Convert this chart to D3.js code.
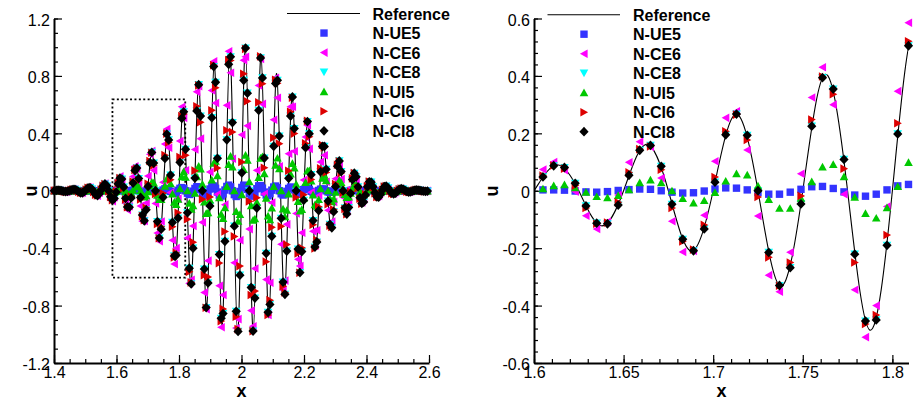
<!DOCTYPE html>
<html>
<head>
<meta charset="utf-8">
<script src="https://cdn.jsdelivr.net/npm/d3@7"></script>
<style>
  body { margin: 0; background: #fff; }
  svg { display: block; }
</style>
</head>
<body>
<svg id="chart" width="914" height="400"></svg>
<script>
// Sample positions of the discrete solutions (cell centres, h = 0.006)
const gridX = [
  1.401,1.407,1.413,1.419,1.425,1.431,1.437,1.443,1.449,1.455,
  1.461,1.467,1.473,1.479,1.485,1.491,1.497,1.503,1.509,1.515,
  1.521,1.527,1.533,1.539,1.545,1.551,1.557,1.563,1.569,1.575,
  1.581,1.587,1.593,1.599,1.605,1.611,1.617,1.623,1.629,1.635,
  1.641,1.647,1.653,1.659,1.665,1.671,1.677,1.683,1.689,1.695,
  1.701,1.707,1.713,1.719,1.725,1.731,1.737,1.743,1.749,1.755,
  1.761,1.767,1.773,1.779,1.785,1.791,1.797,1.803,1.809,1.815,
  1.821,1.827,1.833,1.839,1.845,1.851,1.857,1.863,1.869,1.875,
  1.881,1.887,1.893,1.899,1.905,1.911,1.917,1.923,1.929,1.935,
  1.941,1.947,1.953,1.959,1.965,1.971,1.977,1.983,1.989,1.995,
  2.001,2.007,2.013,2.019,2.025,2.031,2.037,2.043,2.049,2.055,
  2.061,2.067,2.073,2.079,2.085,2.091,2.097,2.103,2.109,2.115,
  2.121,2.127,2.133,2.139,2.145,2.151,2.157,2.163,2.169,2.175,
  2.181,2.187,2.193,2.199,2.205,2.211,2.217,2.223,2.229,2.235,
  2.241,2.247,2.253,2.259,2.265,2.271,2.277,2.283,2.289,2.295,
  2.301,2.307,2.313,2.319,2.325,2.331,2.337,2.343,2.349,2.355,
  2.361,2.367,2.373,2.379,2.385,2.391,2.397,2.403,2.409,2.415,
  2.421,2.427,2.433,2.439,2.445,2.451,2.457,2.463,2.469,2.475,
  2.481,2.487,2.493,2.499,2.505,2.511,2.517,2.523,2.529,2.535,
  2.541,2.547,2.553,2.559,2.565,2.571,2.577,2.583,2.589,2.595
];

// Reference solution: zeros and extrema of the wave packet
const refLineX = [
  1.4,1.4125,1.425,1.4375,1.45,1.4625,1.475,1.4875,1.5,1.5125,1.525,1.5375,1.55,1.5625,1.575,1.5875,
  1.6,1.6125,1.625,1.6375,1.65,1.6625,1.675,1.6875,1.7,1.7125,1.725,1.7375,1.75,1.7625,1.775,1.7875,
  1.8,1.8125,1.825,1.8375,1.85,1.8625,1.875,1.8875,1.9,1.9125,1.925,1.9375,1.95,1.9625,1.975,1.9875,
  2,2.0125,2.025,2.0375,2.05,2.0625,2.075,2.0875,2.1,2.1125,2.125,2.1375,2.15,2.1625,2.175,2.1875,
  2.2,2.2125,2.225,2.2375,2.25,2.2625,2.275,2.2875,2.3,2.3125,2.325,2.3375,2.35,2.3625,2.375,2.3875,
  2.4,2.4125,2.425,2.4375,2.45,2.4625,2.475,2.4875,2.5,2.5125,2.525,2.5375,2.55,2.5625,2.575,2.5875,2.6
];
const refLineU = [
  0,.004,0,-.0063,0,.0098,0,-.015,0,.0223,0,-.0326,0,.0468,0,-.0657,
  0,.0905,0,-.1221,0,.1616,0,-.2096,0,.2665,0,-.3321,0,.4056,0,-.4855,
  0,.5698,0,-.6554,0,.739,0,-.8167,0,.8847,0,-.9394,0,.9778,0,-.9975,
  0,.9975,0,-.9778,0,.9394,0,-.8847,0,.8167,0,-.739,0,.6554,0,-.5698,
  0,.4855,0,-.4056,0,.3321,0,-.2665,0,.2096,0,-.1616,0,.1221,0,-.0905,
  0,.0657,0,-.0468,0,.0326,0,-.0223,0,.015,0,-.0098,0,.0063,0,-.004,0
];

const nUE5 = [
  0,0,0,0,0,0,0,0,0,0,0,0,0,0,-.001,0,0,.001,.001,.001,0,-.001,-.001,-.001,0,
  .001,.002,.002,.001,-.001,-.002,-.002,-.001,.001,.003,.003,.002,-.001,-.004,-.005,-.003,.001,.004,.006,.005,0,-.005,-.008,-.007,-.001,
  .006,.010,.009,.003,-.006,-.012,-.012,-.005,.005,.014,.015,.008,-.004,-.015,-.019,-.012,.003,.017,.022,.016,0,-.017,-.026,-.020,-.003,
  .016,.028,.025,.008,-.015,-.030,-.030,-.012,.012,.031,.033,.017,-.009,-.031,-.037,-.022,.005,.030,.039,.027,0,-.027,-.040,-.031,-.005,
  .023,.039,.034,.010,-.019,-.037,-.035,-.014,.014,.034,.036,.018,-.009,-.030,-.035,-.020,.004,.026,.033,.022,0,-.021,-.030,-.022,-.004,
  .016,.026,.022,.006,-.012,-.022,-.020,-.008,.008,.018,.018,.009,-.004,-.014,-.016,-.009,.002,.011,.013,.009,0,-.008,-.011,-.008,-.001,
  .005,.008,.007,.002,-.003,-.006,-.006,-.002,.002,.005,.005,.002,-.001,-.003,-.003,-.002,0,.002,.003,.002,0,-.001,-.002,-.001,0,
  .001,.001,.001,0,0,-.001,-.001,0,0,0,0,0,0,0,0,0,0,0,0,0,0,0,0,0,0
];
const nCE6 = [
  .001,.003,.004,.002,-.001,-.006,-.007,-.005,.001,.008,.011,.008,0,-.011,-.017,-.014,-.002,.013,.024,.022,.007,-.016,-.034,-.035,-.014,
  .017,.046,.051,.027,-.017,-.059,-.073,-.045,.013,.074,.100,.072,-.003,-.087,-.133,-.108,-.015,.099,.171,.153,.044,-.106,-.213,-.210,-.085,
  .103,.254,.277,.142,-.088,-.294,-.352,-.214,.059,.325,.430,.300,-.012,-.345,-.510,-.400,-.055,.347,.585,.508,.143,-.329,-.645,-.620,-.246,
  .287,.689,.728,.363,-.220,-.709,-.825,-.487,.131,.699,.901,.611,-.024,-.662,-.951,-.726,-.097,.595,.971,.822,.223,-.502,-.957,-.894,-.344,
  .390,.910,.933,.452,-.267,-.835,-.944,-.542,.142,.734,.918,.605,-.022,-.619,-.865,-.641,-.083,.495,.787,.648,.171,-.373,-.691,-.626,-.234,
  .258,.586,.585,.275,-.158,-.478,-.524,-.293,.075,.374,.456,.292,-.010,-.282,-.382,-.275,-.035,.201,.310,.247,.063,-.135,-.242,-.214,-.078,
  .083,.183,.178,.081,-.045,-.134,-.142,-.077,.019,.093,.110,.068,-.002,-.062,-.082,-.058,-.007,.040,.059,.046,.012,-.023,-.041,-.036,-.013,
  .013,.028,.027,.012,-.006,-.018,-.019,-.010,.002,.012,.013,.007,0,-.006,-.008,-.005,-.001,.004,.005,.004,.001,-.002,-.003,-.003,-.001
];
const nCE8 = [
  0,.003,.004,.003,0,-.004,-.006,-.005,-.001,.005,.009,.009,.003,-.006,-.014,-.014,-.006,.007,.019,.022,.012,-.007,-.026,-.033,-.021,
  .005,.033,.047,.035,0,-.041,-.065,-.054,-.010,.048,.087,.081,.026,-.053,-.113,-.115,-.050,.054,.141,.158,.085,-.047,-.169,-.209,-.133,
  .030,.195,.267,.193,0,-.215,-.330,-.268,-.046,.225,.394,.354,.109,-.221,-.454,-.450,-.190,.198,.505,.550,.289,-.154,-.540,-.649,-.400,
  .088,.556,.739,.520,0,-.546,-.814,-.642,-.106,.509,.865,.756,.226,-.444,-.889,-.856,-.352,.355,.881,.933,.475,-.247,-.840,-.980,-.588,
  .125,.769,.994,.680,0,-.674,-.977,-.748,-.121,.560,.925,.786,.228,-.436,-.847,-.792,-.317,.310,.748,.769,.381,-.192,-.636,-.721,-.420,
  .087,.520,.653,.433,0,-.406,-.570,-.424,-.067,.300,.482,.397,.112,-.208,-.392,-.357,-.138,.132,.309,.309,.149,-.072,-.234,-.258,-.146,
  .029,.171,.208,.134,0,-.119,-.162,-.117,-.018,.078,.122,.097,.027,-.048,-.088,-.079,-.029,.027,.062,.060,.028,-.014,-.042,-.045,-.024,
  .005,.028,.032,.020,0,-.017,-.022,-.016,-.002,.009,.015,.012,.003,-.005,-.009,-.008,-.003,.003,.006,.005,.002,-.001,-.003,-.004,-.002
];
const nUI5 = [
  0,0,.001,.001,0,-.001,-.001,-.001,-.001,.001,.002,.002,.001,-.001,-.002,-.003,-.002,.001,.004,.005,.004,0,-.004,-.007,-.005,
  -.001,.006,.011,.010,.003,-.006,-.012,-.012,-.005,.007,.018,.021,.011,-.005,-.020,-.024,-.016,.004,.028,.038,.028,0,-.027,-.042,-.034,
  -.006,.034,.060,.055,.017,-.030,-.061,-.061,-.026,.032,.083,.092,.049,-.022,-.079,-.095,-.059,.015,.099,.133,.094,0,-.086,-.129,-.103,
  -.017,.099,.172,.152,.046,-.078,-.158,-.153,-.064,.076,.192,.206,.106,-.048,-.163,-.193,-.117,.030,.184,.241,.166,0,-.144,-.211,-.164,
  -.027,.148,.248,.214,.063,-.104,-.205,-.195,-.079,.093,.227,.238,.120,-.052,-.175,-.202,-.119,.030,.179,.228,.154,0,-.126,-.180,-.136,
  -.022,.117,.191,.160,.046,-.074,-.141,-.130,-.051,.059,.139,.141,.069,-.029,-.096,-.107,-.061,.015,.087,.108,.071,0,-.055,-.076,-.056,
  -.009,.045,.072,.058,.016,-.025,-.047,-.042,-.016,.018,.041,.041,.019,-.008,-.025,-.027,-.015,.004,.021,.025,.016,0,-.012,-.016,-.011,
  -.002,.008,.013,.010,.003,-.004,-.008,-.007,-.002,.003,.006,.006,.003,-.001,-.003,-.003,-.002,0,.002,.003,.002,0,-.001,-.002,-.001
];
const nCI6 = [
  .001,.003,.004,.003,0,-.004,-.006,-.005,0,.006,.010,.009,.002,-.007,-.014,-.014,-.005,.008,.020,.021,.011,-.009,-.027,-.032,-.019,
  .008,.035,.047,.032,-.004,-.044,-.065,-.051,-.004,.053,.088,.077,.018,-.060,-.115,-.111,-.040,.064,.145,.154,.073,-.060,-.177,-.205,-.119,
  .048,.207,.265,.177,-.022,-.232,-.331,-.250,-.018,.248,.398,.336,.077,-.250,-.464,-.433,-.154,.235,.521,.535,.248,-.199,-.565,-.638,-.358,
  .140,.589,.734,.477,-.059,-.588,-.815,-.600,-.043,.560,.875,.718,.159,-.504,-.908,-.823,-.284,.422,.910,.907,.409,-.318,-.878,-.964,-.525,
  .200,.815,.987,.623,-.074,-.726,-.978,-.699,-.048,.616,.936,.746,.160,-.494,-.865,-.762,-.255,.369,.773,.749,.328,-.248,-.665,-.709,-.375,
  .139,.550,.648,.398,-.046,-.437,-.571,-.397,-.027,.330,.487,.377,.079,-.236,-.402,-.343,-.111,.157,.319,.301,.128,-.094,-.244,-.253,-.131,
  .047,.181,.206,.123,-.014,-.127,-.163,-.110,-.007,.086,.124,.093,.019,-.055,-.090,-.076,-.024,.033,.064,.059,.024,-.017,-.044,-.044,-.022,
  .007,.029,.032,.019,-.002,-.018,-.022,-.015,-.001,.010,.015,.011,.002,-.006,-.009,-.008,-.002,.003,.006,.005,.002,-.001,-.004,-.003,-.002
];
const nCI8 = [
  0,.003,.004,.003,0,-.004,-.006,-.005,-.001,.005,.009,.009,.003,-.006,-.014,-.014,-.006,.007,.019,.022,.012,-.007,-.026,-.033,-.021,
  .005,.033,.047,.035,0,-.041,-.065,-.054,-.010,.048,.087,.081,.026,-.053,-.113,-.115,-.050,.054,.141,.158,.085,-.047,-.169,-.209,-.133,
  .030,.195,.267,.193,0,-.215,-.330,-.268,-.046,.225,.394,.354,.109,-.221,-.454,-.450,-.190,.198,.505,.550,.289,-.154,-.540,-.649,-.400,
  .088,.556,.739,.520,0,-.546,-.814,-.642,-.106,.509,.865,.756,.226,-.444,-.889,-.856,-.352,.355,.881,.933,.475,-.247,-.840,-.980,-.588,
  .125,.769,.994,.680,0,-.674,-.977,-.748,-.121,.560,.925,.786,.228,-.436,-.847,-.792,-.317,.310,.748,.769,.381,-.192,-.636,-.721,-.420,
  .087,.520,.653,.433,0,-.406,-.570,-.424,-.067,.300,.482,.397,.112,-.208,-.392,-.357,-.138,.132,.309,.309,.149,-.072,-.234,-.258,-.146,
  .029,.171,.208,.134,0,-.119,-.162,-.117,-.018,.078,.122,.097,.027,-.048,-.088,-.079,-.029,.027,.062,.060,.028,-.014,-.042,-.045,-.024,
  .005,.028,.032,.020,0,-.017,-.022,-.016,-.002,.009,.015,.012,.003,-.005,-.009,-.008,-.003,.003,.006,.005,.002,-.001,-.003,-.004,-.002
];

const seriesNames = ["N-UE5", "N-CE6", "N-CE8", "N-UI5", "N-CI6", "N-CI8"];
const referenceName = "Reference";

// Axis ticks and labels
const fullXTicks = [1.4, 1.6, 1.8, 2, 2.2, 2.4, 2.6];
const fullXTickLabels = ["1.4", "1.6", "1.8", "2", "2.2", "2.4", "2.6"];
const fullUTicks = [-1.2, -0.8, -0.4, 0, 0.4, 0.8, 1.2];
const fullUTickLabels = ["-1.2", "-0.8", "-0.4", "0", "0.4", "0.8", "1.2"];
const zoomXTicks = [1.6, 1.65, 1.7, 1.75, 1.8];
const zoomXTickLabels = ["1.6", "1.65", "1.7", "1.75", "1.8"];
const zoomUTicks = [-0.6, -0.4, -0.2, 0, 0.2, 0.4, 0.6];
const zoomUTickLabels = ["-0.6", "-0.4", "-0.2", "0", "0.2", "0.4", "0.6"];

// Window shown in the right-hand panel, outlined in the left one
const zoomBoxX = [1.587, 1.82];
const zoomBoxU = [-0.605, 0.636];

const FONT = '"Liberation Sans", Arial, Helvetica, sans-serif';
const seriesValues = [nUE5, nCE6, nCE8, nUI5, nCI6, nCI8];
const seriesColors = ["#3333ff", "#ff00ff", "#00ffff", "#00c800", "#dd0000", "#000000"];
const seriesShapes = [
  "M-3.7,-3.7H3.7V3.7H-3.7Z",          // square
  "M-4.1,0L3.6,-4.3L3.6,4.3Z",          // left triangle
  "M-4.3,-3.6H4.3L0,4.1Z",              // down triangle
  "M0,-4.1L4.3,3.6H-4.3Z",              // up triangle
  "M4.1,0L-3.6,-4.3L-3.6,4.3Z",         // right triangle
  "M0,-4.9L4.6,0L0,4.9L-4.6,0Z"         // diamond
];

const panels = [
  {
    key: "full",
    xDomain: [1.4, 2.6], uDomain: [-1.2, 1.2],
    xRange: [54, 429], uRange: [363, 18.5],
    xTicks: fullXTicks, xLabels: fullXTickLabels, xMinorStep: 0.05,
    uTicks: fullUTicks, uLabels: fullUTickLabels, uMinorStep: 0.1,
    legend: { x0: 287, x1: 360, mx: 324, tx: 372.5, y0: 13.5, dy: 19.55 },
    xTitleX: 241.5, uTitleX: 37, box: true
  },
  {
    key: "zoom",
    xDomain: [1.6, 1.809], uDomain: [-0.6, 0.6],
    xRange: [534, 908.5], uRange: [363, 18.5],
    xTicks: zoomXTicks, xLabels: zoomXTickLabels, xMinorStep: 0.01,
    uTicks: zoomUTicks, uLabels: zoomUTickLabels, uMinorStep: 0.04,
    legend: { x0: 547.5, x1: 620, mx: 584, tx: 633, y0: 14.7, dy: 19.5 },
    xTitleX: 721.5, uTitleX: 497.5, box: false
  }
];

const svg = d3.select("#chart");

function minorValues(domain, step) {
  return d3.range(domain[0], domain[1] + 1e-9, step).map(v => +v.toFixed(4));
}

function styleAxis(g) {
  g.attr("font-family", FONT).attr("font-size", 16);
  g.selectAll(".tick line").attr("stroke", "#000").attr("stroke-width", 1.2);
  g.selectAll(".tick text").attr("fill", "#000");
}

function drawPanel(p) {
  const x = d3.scaleLinear().domain(p.xDomain).range(p.xRange);
  const y = d3.scaleLinear().domain(p.uDomain).range(p.uRange);
  const g = svg.append("g").attr("class", "panel-" + p.key);
  const base = p.uRange[0];

  // minor ticks
  g.append("g").attr("transform", `translate(0,${base})`)
    .call(d3.axisBottom(x).tickValues(minorValues(p.xDomain, p.xMinorStep)).tickSize(-4).tickFormat(""))
    .call(a => a.select(".domain").remove())
    .call(styleAxis);
  g.append("g").attr("transform", `translate(${p.xRange[0]},0)`)
    .call(d3.axisLeft(y).tickValues(minorValues(p.uDomain, p.uMinorStep)).tickSize(-4).tickFormat(""))
    .call(a => a.select(".domain").remove())
    .call(styleAxis);

  // major ticks, labels and axis lines
  g.append("g").attr("transform", `translate(0,${base})`)
    .call(d3.axisBottom(x).tickValues(p.xTicks).tickFormat((d, i) => p.xLabels[i])
      .tickSizeInner(-8).tickSizeOuter(0).tickPadding(4))
    .call(styleAxis)
    .call(a => a.select(".domain").attr("stroke", "#000").attr("stroke-width", 2));
  g.append("g").attr("transform", `translate(${p.xRange[0]},0)`)
    .call(d3.axisLeft(y).tickValues(p.uTicks).tickFormat((d, i) => p.uLabels[i])
      .tickSizeInner(-8).tickSizeOuter(0).tickPadding(4))
    .call(styleAxis)
    .call(a => a.selectAll(".tick text").attr("dy", "0.42em"))
    .call(a => a.select(".domain").attr("stroke", "#000").attr("stroke-width", 2));

  // axis titles
  g.append("text").attr("x", p.xTitleX).attr("y", 396.5)
    .attr("text-anchor", "middle").attr("font-family", FONT)
    .attr("font-size", 18).attr("font-weight", "bold").text("x");
  g.append("text").attr("transform", `translate(${p.uTitleX},191) rotate(-90)`)
    .attr("text-anchor", "middle").attr("font-family", FONT)
    .attr("font-size", 18).attr("font-weight", "bold").text("u");

  // outline of the zoomed window
  if (p.box) {
    g.append("rect")
      .attr("x", x(zoomBoxX[0])).attr("y", y(zoomBoxU[1]))
      .attr("width", x(zoomBoxX[1]) - x(zoomBoxX[0]))
      .attr("height", y(zoomBoxU[0]) - y(zoomBoxU[1]))
      .attr("fill", "none").attr("stroke", "#000")
      .attr("stroke-width", 1.8).attr("stroke-dasharray", "2,2.4");
  }

  // reference curve
  const clipId = "clip-" + p.key;
  svg.append("clipPath").attr("id", clipId).append("rect")
    .attr("x", p.xRange[0]).attr("y", p.uRange[1])
    .attr("width", p.xRange[1] - p.xRange[0]).attr("height", p.uRange[0] - p.uRange[1]);
  const refPts = refLineX.map((v, i) => [v, refLineU[i]]);
  g.append("path").datum(refPts)
    .attr("clip-path", `url(#${clipId})`)
    .attr("fill", "none").attr("stroke", "#000").attr("stroke-width", 1.1)
    .attr("d", d3.line().x(d => x(d[0])).y(d => y(d[1])).curve(d3.curveNatural));

  // discrete solutions
  seriesValues.forEach((vals, s) => {
    const pts = gridX.map((v, i) => [v, vals[i]])
      .filter(d => d[0] >= p.xDomain[0] - 1e-9 && d[0] <= p.xDomain[1] + 1e-4 &&
                   d[1] >= p.uDomain[0] && d[1] <= p.uDomain[1]);
    g.append("g").selectAll("path").data(pts).join("path")
      .attr("transform", d => `translate(${x(d[0])},${y(d[1])})`)
      .attr("d", seriesShapes[s]).attr("fill", seriesColors[s]);
  });

  // legend
  const L = p.legend;
  const lg = g.append("g").attr("font-family", FONT).attr("font-size", 16).attr("font-weight", "bold");
  lg.append("line").attr("x1", L.x0).attr("x2", L.x1).attr("y1", L.y0).attr("y2", L.y0)
    .attr("stroke", "#000").attr("stroke-width", 1.1);
  lg.append("text").attr("x", L.tx).attr("y", L.y0 + 6).text(referenceName);
  seriesNames.forEach((name, s) => {
    const ry = L.y0 + L.dy * (s + 1);
    lg.append("path").attr("transform", `translate(${L.mx},${ry})`)
      .attr("d", seriesShapes[s]).attr("fill", seriesColors[s]);
    lg.append("text").attr("x", L.tx).attr("y", ry + 6).text(name);
  });
}

panels.forEach(drawPanel);
</script>
</body>
</html>
